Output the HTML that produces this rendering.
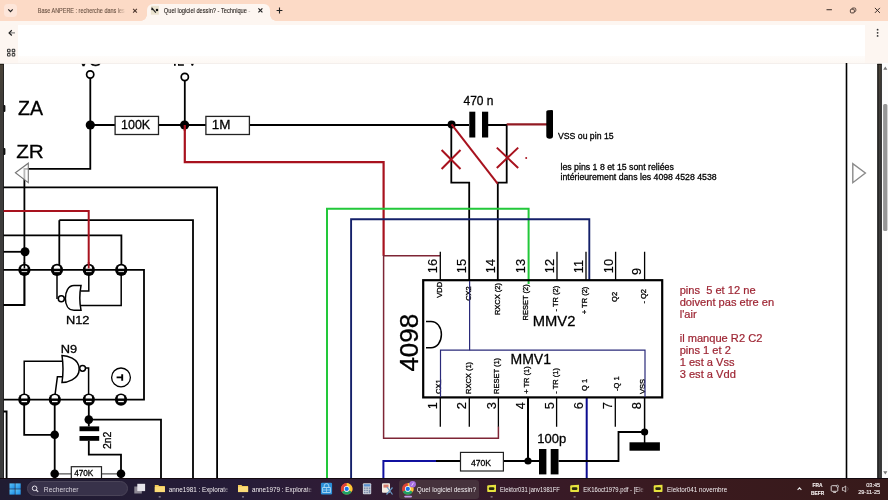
<!DOCTYPE html>
<html><head><meta charset="utf-8">
<style>
*{margin:0;padding:0;box-sizing:border-box}
html,body{width:888px;height:500px;overflow:hidden;background:#fff;font-family:"Liberation Sans",sans-serif}
.abs{position:absolute}
#tabbar{left:0;top:0;width:888px;height:21px;background:#fcdac6}
#toolbar{left:0;top:21px;width:888px;height:42px;background:#fdf6f1}
#tbwhite{left:18px;top:24.5px;width:847px;height:32px;background:#fff}
#content{left:0;top:63px;width:888px;height:415px;background:#fff;overflow:hidden}
#taskbar{left:0;top:478px;width:888px;height:22px;background:linear-gradient(90deg,#201c32 0%,#231c35 15%,#261c38 27%,#2e1c36 36%,#341b2e 50%,#381a26 63%,#3a1a1e 80%,#371a1a 100%);border-top:1px solid #140a10}
.tt{font-size:7.3px;color:#3a2a22;white-space:nowrap;position:absolute}
.wt{font-size:7.3px;color:#f2eef0;white-space:nowrap;position:absolute}
.fd{font-size:6.5px;width:60px;overflow:hidden;-webkit-mask-image:linear-gradient(90deg,#000 90%,transparent)}
</style></head>
<body><div style="position:absolute;left:0;top:0;width:888px;height:500px;will-change:transform">
<!-- TAB BAR -->
<div id="tabbar" class="abs"></div>
<div class="abs" style="left:3.5px;top:4px;width:13.5px;height:13px;border-radius:4px;background:#fde6da"></div>
<!-- active tab -->
<div class="abs" style="left:146.5px;top:3.6px;width:123px;height:18px;background:#fdf6f1;border-radius:6px 6px 0 0"></div>
<div class="abs" style="left:140.5px;top:15px;width:6px;height:6px;background:radial-gradient(circle at 0 0,transparent 5.5px,#fdf6f1 6px)"></div>
<div class="abs" style="left:269.5px;top:15px;width:6px;height:6px;background:radial-gradient(circle at 6px 0,transparent 5.5px,#fdf6f1 6px)"></div>
<svg class="abs" style="left:0;top:0" width="300" height="21" viewBox="0 0 300 21" font-family="Liberation Sans, sans-serif">
<defs><linearGradient id="f1" gradientUnits="userSpaceOnUse" x1="38" y1="0" x2="125" y2="0"><stop offset="0.9" stop-color="#6a5243"/><stop offset="1" stop-color="#6a5243" stop-opacity="0.05"/></linearGradient>
<linearGradient id="f2" gradientUnits="userSpaceOnUse" x1="164" y1="0" x2="251" y2="0"><stop offset="0.94" stop-color="#2a2420"/><stop offset="1" stop-color="#2a2420" stop-opacity="0.1"/></linearGradient></defs>
  <path d="M8.3 9.4 L10.5 11.6 L12.7 9.4" fill="none" stroke="#222" stroke-width="1.2"/>
  <text x="37.8" y="12.9" font-size="6.9" fill="url(#f1)" stroke="url(#f1)" stroke-width="0.12" textLength="87" lengthAdjust="spacingAndGlyphs">Base ANPERE : recherche dans les</text>
  <path d="M133.1 8.9 L136.9 12.7 M136.9 8.9 L133.1 12.7" stroke="#4e372e" stroke-width="1.05"/>
  <rect x="150.9" y="5.8" width="8" height="8.9" fill="#ebe3cf"/>
  <path d="M151.6 7.6 L155.8 12.6" stroke="#222" stroke-width="1.1"/>
  <circle cx="152.2" cy="9.2" r="1" fill="#222"/>
  <circle cx="157" cy="10" r="1.25" fill="#111"/>
  <text x="163.8" y="12.6" font-size="6.9" fill="url(#f2)" stroke="url(#f2)" stroke-width="0.12" textLength="86.6" lengthAdjust="spacingAndGlyphs">Quel logiciel dessin? - Technique -</text>
  <path d="M258.4 8.4 L262.4 12.4 M262.4 8.4 L258.4 12.4" stroke="#222" stroke-width="1.15"/>
  <path d="M279.5 7.6 L279.5 13.4 M276.6 10.5 L282.4 10.5" stroke="#222" stroke-width="1.1"/>
</svg>
<svg class="abs" style="left:820px;top:0" width="68" height="21" viewBox="0 0 68 21">
  <path d="M6.5 9.7 L11.9 9.7" stroke="#4a3a34" stroke-width="1.1"/>
  <rect x="30.4" y="9.2" width="3.9" height="3.7" fill="none" stroke="#4a3a34" stroke-width="1" rx="1"/>
  <path d="M31.6 9.2 Q31.8 8 33 8 L34.6 8 Q35.8 8 35.8 9.2 L35.8 10.6 Q35.8 11.7 34.3 11.8" fill="none" stroke="#4a3a34" stroke-width="0.9"/>
  <path d="M54.9 7.9 L59.9 12.9 M59.9 7.9 L54.9 12.9" stroke="#3a2e2a" stroke-width="1"/>
</svg>
<!-- TOOLBAR -->
<div id="toolbar" class="abs"></div>
<div id="tbwhite" class="abs"></div>
<div class="abs" style="left:18px;top:56px;width:847px;height:7px;background:linear-gradient(#fefcfa,#fdf8f4)"></div>
<svg class="abs" style="left:0;top:21px" width="888" height="42" viewBox="0 21 888 42">
  <path d="M15 32.9 L9.6 32.9" stroke="#666" stroke-width="1"/><path d="M11.8 30.3 L9.1 32.9 L11.8 35.5" fill="none" stroke="#222" stroke-width="1.2"/>
  <g fill="none" stroke="#3a3a3a" stroke-width="1.05">
    <rect x="7.5" y="49.3" width="2.6" height="2.6" rx="0.7"/>
    <rect x="12.2" y="49.3" width="2.6" height="2.6" rx="0.7"/>
    <rect x="7.5" y="53.4" width="2.6" height="2.6" rx="0.7"/>
    <rect x="12.2" y="53.4" width="2.6" height="2.6" rx="0.7"/>
  </g>
  <circle cx="877.6" cy="29.7" r="0.9" fill="#333"/>
  <circle cx="877.6" cy="32.8" r="0.9" fill="#333"/>
  <circle cx="877.6" cy="35.9" r="0.9" fill="#333"/>
</svg>
<!-- CONTENT -->
<div id="content" class="abs">
<svg class="abs" style="left:0;top:-63px" width="888" height="500" viewBox="0 0 888 500" font-family="Liberation Sans, sans-serif">
<g fill="none" stroke="#000" stroke-width="1.6" stroke-linecap="square">
<!-- top clipped texts -->
</g>
<text x="77.5" y="66.3" font-size="18" fill="#000" stroke="#000" stroke-width="0.28">VS</text>
<g fill="#000"><rect x="174" y="63" width="1.7" height="2.8"/>
<path d="M178 63.6 Q178.6 63.9 179.2 64.3 H183.9 V65.8 H178 Z"/>
<path d="M190.6 63 H194.1 L193 65.8 H191.7 Z"/></g>
<rect x="0" y="63" width="888" height="0.9" fill="#f3eeea"/>
<!-- left dark band -->
<defs><linearGradient id="lb" x1="0" y1="0" x2="0" y2="1"><stop offset="0" stop-color="#4a4338"/><stop offset="0.08" stop-color="#403d39"/><stop offset="0.25" stop-color="#3d3c3b"/><stop offset="1" stop-color="#3c3c3c"/></linearGradient></defs>
<rect x="0" y="64" width="3.2" height="414" fill="url(#lb)"/>
<rect x="3" y="64" width="0.9" height="414" fill="#111"/>
<rect x="0" y="63.8" width="3.9" height="0.9" fill="#1a1712"/>
<rect x="3.4" y="105" width="2" height="7" rx="1" fill="#111"/>
<rect x="3.4" y="148" width="2" height="7" rx="1" fill="#111"/>
<g fill="none" stroke="#000" stroke-width="1.8">
  <path d="M90.3 78 V168.8 H24.4 V305 H3.6"/>
  <path d="M90.3 125 H115 M158.5 125 H206 M249.4 125 H469"/>
  <path d="M184.8 80.5 V125"/>
  <path d="M488 125 H506.7 V182.7 H497.8 V280"/>
  <path d="M451.3 125 V182.7 H469.2 V280"/>
  <path d="M3.6 187.3 H217.1 V478"/>
  <path d="M59.3 220.2 H193 V478"/>
  <path d="M59.3 220.2 V266"/>
  <path d="M3.6 235.3 H121.4 V266"/>
  <path d="M3.6 251.8 H25"/>
  <path d="M3.6 269.8 H144 V399.6 H3.8"/>
</g>
<path d="M3.6 211.1 H88.7 V266" fill="none" stroke="#a8121e" stroke-width="2"/>
<!-- red from 12V -->
<path d="M184.8 125 V162.2 H383.6 V255.7" fill="none" stroke="#a8121e" stroke-width="2.2"/>
<path d="M440.3 255.7 H383.6 V438.2 H498.4 V426.5" fill="none" stroke="#7e2535" stroke-width="1.5"/>
<!-- green -->
<path d="M327 478 V208.8 H528.6 V284" fill="none" stroke="#22c83a" stroke-width="2"/>
<!-- blue -->
<path d="M351.1 478 V219.3 H589.3 V280" fill="none" stroke="#14206a" stroke-width="1.9"/>
<path d="M383.4 478 V461 H436" fill="none" stroke="#1010a0" stroke-width="2"/>
<path d="M586.7 397 V478" fill="none" stroke="#0c0c90" stroke-width="2"/>
<!-- terminals -->
<circle cx="90.2" cy="74.5" r="3.6" fill="#fff" stroke="#000" stroke-width="1.7"/>
<circle cx="184.8" cy="77" r="3.6" fill="#fff" stroke="#000" stroke-width="1.7"/>
<!-- junction dots -->
<g fill="#000">
  <circle cx="90.3" cy="125" r="4.6"/>
  <circle cx="184.6" cy="125" r="4.6"/>
  <circle cx="451.6" cy="124.5" r="4"/>
  <circle cx="25" cy="251.8" r="4.5"/>
</g>
<path d="M184.8 125 V131" stroke="#a8121e" stroke-width="2.2"/>
<!-- resistors -->
<rect x="115.1" y="116.4" width="43.4" height="18.1" fill="#fff" stroke="#222" stroke-width="1.3"/>
<text x="121" y="128.9" font-size="12.5" fill="#000" stroke="#000" stroke-width="0.28">100K</text>
<rect x="205.9" y="116.4" width="43.5" height="18.1" fill="#fff" stroke="#222" stroke-width="1.3"/>
<text x="211.8" y="128.9" font-size="13.5" fill="#000" stroke="#000" stroke-width="0.28">1M</text>
<!-- capacitor 470n -->
<text x="463.5" y="105" font-size="12" fill="#000" stroke="#000" stroke-width="0.28">470 n</text>
<rect x="469.3" y="111.7" width="6" height="25.8" fill="#000"/>
<rect x="482" y="111.7" width="6.2" height="25.8" fill="#000"/>
<path d="M506.7 124.4 H547" stroke="#921a22" stroke-width="2.1"/>
<path d="M546.3 111.6 Q546.4 110.4 548 110.3 L552 109.9 Q553 109.9 553 111.2 L553 136 Q553 138.8 549.7 138.8 Q546.3 138.8 546.3 136 Z" fill="#000"/>
<path d="M451.6 124.3 L497.6 183.7" stroke="#a8121e" stroke-width="2"/>
<path d="M441.6 150 L460.5 169 M460.5 150 L441.6 169" stroke="#a8121e" stroke-width="2"/>
<path d="M496.8 147.6 L518.2 168 M518.2 147.6 L496.8 168" stroke="#a8121e" stroke-width="2"/>
<circle cx="526.2" cy="158.1" r="1" fill="#a8121e"/>
<text x="558" y="139" font-size="8.7" fill="#000" stroke="#000" stroke-width="0.28">VSS ou pin 15</text>
<text x="560.5" y="170.1" font-size="8.75" fill="#000" stroke="#000" stroke-width="0.28">les pins 1 8 et 15 sont reliées</text>
<text x="560.5" y="179.8" font-size="8.72" fill="#000" stroke="#000" stroke-width="0.28">intérieurement dans les 4098 4528 4538</text>
<!-- text left -->
<text x="18" y="114.5" font-size="19.6" fill="#000" stroke="#000" stroke-width="0.28" textLength="25" lengthAdjust="spacingAndGlyphs">ZA</text>
<text x="16.2" y="158.3" font-size="19" fill="#000" stroke="#000" stroke-width="0.28" textLength="27.6" lengthAdjust="spacingAndGlyphs">ZR</text>
<!-- left arrow -->
<path d="M15.4 172.8 L28.3 163.2 L28.3 182.6 Z" fill="#fff" fill-opacity="0.72" stroke="#767676" stroke-width="1.1"/>
<!-- connector circles -->
<circle cx="24.4" cy="269.9" r="6.1" fill="#000"/>
<path d="M21.1 268.7 A3.3 3.3 0 0 1 27.7 268.7 Z" fill="#fff"/>
<rect x="21.6" y="271.2" width="5.6" height="0.9" fill="#fff"/>
<circle cx="57" cy="269.9" r="6.1" fill="#000"/>
<path d="M53.7 268.7 A3.3 3.3 0 0 1 60.3 268.7 Z" fill="#fff"/>
<rect x="54.2" y="271.2" width="5.6" height="0.9" fill="#fff"/>
<circle cx="88.8" cy="269.9" r="6.1" fill="#000"/>
<path d="M85.5 268.7 A3.3 3.3 0 0 1 92.1 268.7 Z" fill="#fff"/>
<rect x="86.0" y="271.2" width="5.6" height="0.9" fill="#fff"/>
<circle cx="121.2" cy="269.9" r="6.1" fill="#000"/>
<path d="M117.9 268.7 A3.3 3.3 0 0 1 124.5 268.7 Z" fill="#fff"/>
<rect x="118.4" y="271.2" width="5.6" height="0.9" fill="#fff"/>
<circle cx="24.3" cy="399.6" r="6.1" fill="#000"/>
<path d="M21.0 398.4 A3.3 3.3 0 0 1 27.6 398.4 Z" fill="#fff"/>
<rect x="21.5" y="400.9" width="5.6" height="1.3" fill="#fff"/>
<circle cx="54.8" cy="399.6" r="6.1" fill="#000"/>
<path d="M51.5 398.4 A3.3 3.3 0 0 1 58.1 398.4 Z" fill="#fff"/>
<rect x="52.0" y="400.9" width="5.6" height="1.3" fill="#fff"/>
<circle cx="88.8" cy="399.6" r="6.1" fill="#000"/>
<path d="M85.5 398.4 A3.3 3.3 0 0 1 92.1 398.4 Z" fill="#fff"/>
<rect x="86.0" y="400.9" width="5.6" height="1.3" fill="#fff"/>
<circle cx="121" cy="399.6" r="6.1" fill="#000"/>
<path d="M117.7 398.4 A3.3 3.3 0 0 1 124.3 398.4 Z" fill="#fff"/>
<rect x="118.2" y="400.9" width="5.6" height="1.3" fill="#fff"/>
<path d="M24.4 262 V268.4" stroke="#000" stroke-width="1.6"/><path d="M88.7 262 V268.4" stroke="#a8121e" stroke-width="1.8"/>
<!-- N12 gate (pointing left) -->
<g fill="none" stroke="#000" stroke-width="1.5">
  <path d="M24.5 274 V305 H3.6"/>
  <path d="M57 274 V299"/>
  <path d="M88.8 274 V291 H81"/>
  <path d="M121.2 274 V305.4 H81"/>
  <path d="M81 285.6 H74 C68 285.6 65.4 292 65.4 298.4 C65.4 304.8 68 310.2 74 310.2 H81 Q78.6 298 81 285.6 Z" fill="#fff"/>
  <circle cx="61.3" cy="298.8" r="3" fill="#fff"/>
</g>
<text x="66" y="323.6" font-size="11" fill="#000" stroke="#000" stroke-width="0.28" textLength="23.5" lengthAdjust="spacingAndGlyphs">N12</text>
<!-- N9 gate (pointing right) -->
<g fill="none" stroke="#000" stroke-width="1.5">
  <path d="M24.2 395 V361.3 H63"/>
  <path d="M55 395 L57.4 376.8 H63"/>
  <path d="M85.6 368 H88.6 V395"/>
  <path d="M62 355.5 C66 355.5 79.2 358 79.2 369 C79.2 380 66 382.5 62 382.5 Q64 369 62 355.5 Z" fill="#fff"/>
  <circle cx="82.6" cy="368.3" r="2.9" fill="#fff"/>
</g>
<text x="60.8" y="353.4" font-size="11" fill="#000" stroke="#000" stroke-width="0.28" textLength="16.4" lengthAdjust="spacingAndGlyphs">N9</text>
<!-- circled symbol -->
<circle cx="121" cy="377.4" r="9.4" fill="none" stroke="#000" stroke-width="1.3"/>
<path d="M116.6 377.4 H122.2 M122.2 374.2 V380.8" stroke="#000" stroke-width="1.9"/>
<!-- lower left -->
<g fill="none" stroke="#000" stroke-width="1.8">
  <path d="M24.2 404 V434.8 H54.7"/>
  <path d="M54.7 404 V478"/>
  <path d="M88.8 404 V426.4"/>
  <path d="M88.8 419.6 H161 V478"/>
  <path d="M88.8 440.8 V454.6 H121 V478"/>
  <path d="M3.6 411.5 H6.6 V478"/>
  <path d="M54.7 473.8 H71.3 M101.5 473.8 H121" stroke="#555" stroke-width="1.3"/>
</g>
<g fill="#000">
  <circle cx="54.7" cy="434.8" r="4.3"/>
  <circle cx="88.8" cy="419.6" r="4.3"/>
  <circle cx="54.7" cy="473.8" r="4.3"/>
  <circle cx="121" cy="473.8" r="4.3"/>
  <rect x="79.5" y="426.4" width="19.7" height="4.8"/>
  <rect x="79.5" y="436" width="19.7" height="4.8"/>
</g>
<text transform="translate(110.7 449) rotate(-90)" font-size="10.4" fill="#000" stroke="#000" stroke-width="0.28">2n2</text>
<rect x="71.3" y="466.7" width="30.2" height="14" fill="#fff" stroke="#222" stroke-width="1.2"/>
<text x="74.2" y="476.3" font-size="8.2" fill="#000" stroke="#000" stroke-width="0.28">470K</text>
<!-- CHIP -->
<rect x="423.2" y="280.2" width="239" height="117.2" fill="none" stroke="#000" stroke-width="2.2"/>
<g stroke="#000" stroke-width="1.3">
  <path d="M440.3 251.7 V280 M557 251.7 V280 M586 251.7 V280 M615.6 251.7 V280 M644.6 251.7 V280"/>
  <path d="M440.3 398 V426.8 M469.3 398 V426.8 M498.4 398 V426.8 M556.6 398 V426.8 M615.3 398 V426.8"/>
</g>
<path d="M528 398 V461" stroke="#000" stroke-width="2"/>
<path d="M644.6 398 V443" stroke="#000" stroke-width="1.5"/>
<path d="M426 321.4 H431 C437 321.4 441.4 327 441.4 334.6 C441.4 342 437 347.7 431 347.7 H426" fill="none" stroke="#000" stroke-width="1.5"/>
<text transform="translate(417.8 371.6) rotate(-90)" font-size="26" fill="#000" stroke="#000" stroke-width="0.3">4098</text>
<text x="532.8" y="326.3" font-size="14.2" textLength="42.6" lengthAdjust="spacingAndGlyphs" fill="#000" stroke="#000" stroke-width="0.28">MMV2</text>
<text x="510.5" y="363.7" font-size="14" fill="#000" stroke="#000" stroke-width="0.28">MMV1</text>
<!-- pin numbers top -->
<g font-size="12.8" fill="#000" stroke="#000" stroke-width="0.2">
  <text transform="translate(437 273.2) rotate(-90)">16</text>
  <text transform="translate(466 273.2) rotate(-90)">15</text>
  <text transform="translate(495.4 273.2) rotate(-90)">14</text>
  <text transform="translate(525 273.2) rotate(-90)">13</text>
  <text transform="translate(554 273.2) rotate(-90)">12</text>
  <text transform="translate(583.2 273.2) rotate(-90)">11</text>
  <text transform="translate(612.6 273.2) rotate(-90)">10</text>
  <text transform="translate(641.4 275) rotate(-90)">9</text>
</g>
<!-- pin numbers bottom -->
<g font-size="12.8" fill="#000" stroke="#000" stroke-width="0.2">
  <text transform="translate(437 409.2) rotate(-90)">1</text>
  <text transform="translate(466.4 409.2) rotate(-90)">2</text>
  <text transform="translate(495.6 409.2) rotate(-90)">3</text>
  <text transform="translate(524.8 409.2) rotate(-90)">4</text>
  <text transform="translate(553.8 409.2) rotate(-90)">5</text>
  <text transform="translate(583 409.2) rotate(-90)">6</text>
  <text transform="translate(612.2 409.2) rotate(-90)">7</text>
  <text transform="translate(641.4 409.2) rotate(-90)">8</text>
</g>
<!-- pin labels top (end-anchored) -->
<g font-size="7.5" fill="#000" stroke="#000" stroke-width="0.3" text-anchor="end">
  <text transform="translate(442 281.8) rotate(-90)">VDD</text>
  <text transform="translate(470.6 286.2) rotate(-90)">CX2</text>
  <text transform="translate(499.5 283) rotate(-90)">RXCX (2)</text>
  <text transform="translate(528.3 284.3) rotate(-90)">RESET (2)</text>
  <text transform="translate(558.1 285.8) rotate(-90)">- TR (2)</text>
  <text transform="translate(586.6 286.7) rotate(-90)">+ TR (2)</text>
  <text transform="translate(616.5 291.9) rotate(-90)">Q2</text>
  <text transform="translate(645.6 289) rotate(-90)">- Q2</text>
</g>
<!-- pin labels bottom (start-anchored) -->
<g font-size="7.5" fill="#000" stroke="#000" stroke-width="0.3">
  <text transform="translate(441 394) rotate(-90)">CX1</text>
  <text transform="translate(470.9 394) rotate(-90)">RXCX (1)</text>
  <text transform="translate(499.1 394) rotate(-90)">RESET (1)</text>
  <text transform="translate(528.7 393.8) rotate(-90)">+ TR (1)</text>
  <text transform="translate(558.1 393.8) rotate(-90)">- TR (1)</text>
  <text transform="translate(586.6 391) rotate(-90)">Q 1</text>
  <text transform="translate(618.8 391) rotate(-90)">-Q 1</text>
  <text transform="translate(645.3 394) rotate(-90)">VSS</text>
</g>
<g fill="none" stroke="#2a2a7a" stroke-width="1.2">
  <path d="M440.5 397 V350.2 H645 V397"/>
  <path d="M469.6 281 V350.2"/>
</g>
<!-- bottom circuit -->
<g fill="none" stroke="#000" stroke-width="1.8">
  <path d="M436 461 H460.5 M503.4 461 H539 M558.5 461 H618.5 V432 H644.6"/>
</g>
<rect x="460.5" y="452.4" width="42.9" height="18.6" fill="#fff" stroke="#222" stroke-width="1.2"/>
<text x="471" y="465.5" font-size="8.6" fill="#000" stroke="#000" stroke-width="0.28">470K</text>
<circle cx="528" cy="461" r="3.6" fill="#000"/>
<circle cx="644.6" cy="432" r="3.6" fill="#000"/>
<rect x="539" y="449" width="7.4" height="25.4" fill="#000"/>
<rect x="550.7" y="449" width="7.8" height="25.4" fill="#000"/>
<text x="537.3" y="442.7" font-size="13" fill="#000" stroke="#000" stroke-width="0.28">100p</text>
<rect x="629.5" y="442.3" width="30.4" height="8.4" fill="#000"/>
<!-- red notes -->
<g font-size="11.1" fill="#9e2634" stroke="#9e2634" stroke-width="0.22">
  <text x="679.7" y="294" xml:space="preserve">pins  5 et 12 ne</text>
  <text x="679.7" y="306">doivent pas etre en</text>
  <text x="679.7" y="318">l'air</text>
  <text x="679.7" y="341.5">il manque R2 C2</text>
  <text x="679.7" y="353.5">pins 1 et 2</text>
  <text x="679.7" y="365.5">1 est a Vss</text>
  <text x="679.7" y="378">3 est a Vdd</text>
</g>
<!-- right side -->
<path d="M846.5 63 V478" stroke="#000" stroke-width="1.6"/>
<path d="M865.4 173 L852.8 163.6 L852.8 182.7 Z" fill="#fff" stroke="#8a8a8a" stroke-width="1.4"/>
<rect x="877.3" y="64" width="4.6" height="414" fill="url(#lb)"/>
<rect x="877.4" y="64" width="1.1" height="414" fill="#161616"/>
<rect x="880.8" y="64" width="1.1" height="414" fill="#202020"/>
<rect x="877.3" y="63.8" width="4.6" height="1" fill="#1a1712"/>
<rect x="881.9" y="63" width="6.1" height="415" fill="#fcfcfc"/>
<path d="M885.3 66.4 L887.4 69.8 L883.2 69.8 Z" fill="#777"/>
<path d="M885.3 474.6 L887.4 471.2 L883.2 471.2 Z" fill="#777"/>
<rect x="883.1" y="104" width="4.3" height="127" rx="1.5" fill="#979797"/>

</svg>
</div>
<!-- TASKBAR -->
<div id="taskbar" class="abs"></div>
<div class="abs" style="left:26.7px;top:481px;width:101.3px;height:15.4px;border-radius:7.7px;background:#38324a;border:0.6px solid #4a4458"></div>
<div class="abs" style="left:399.2px;top:479.5px;width:80px;height:19.5px;border-radius:3px;background:#46323c"></div>
<svg class="abs" style="left:0;top:478px" width="888" height="22" viewBox="0 478 888 22">
  <defs>
    <linearGradient id="wg" x1="0" y1="0" x2="1" y2="1"><stop offset="0" stop-color="#5ec4f7"/><stop offset="1" stop-color="#1a8ce6"/></linearGradient>
  </defs>
  <g fill="url(#wg)">
    <rect x="9.5" y="483.4" width="5.3" height="5.3"/><rect x="15.4" y="483.4" width="5.3" height="5.3"/>
    <rect x="9.5" y="489.3" width="5.3" height="5.3"/><rect x="15.4" y="489.3" width="5.3" height="5.3"/>
  </g>
  <circle cx="34.6" cy="488.3" r="2.3" fill="none" stroke="#e6e2ea" stroke-width="1"/>
  <path d="M36.3 490 L38.2 491.9" stroke="#e6e2ea" stroke-width="1.1"/>
  <!-- task view -->
  <rect x="134.3" y="486.5" width="7.5" height="7" fill="#8c8894"/>
  <rect x="137.3" y="483.8" width="7.8" height="7.3" fill="#e6e4ea"/>
  <!-- folders -->
  <g>
    <path d="M154.8 485 h3.4 l1 1 h5.7 v6.1 h-10.1 z" fill="#f4cc5a"/>
    <rect x="154.8" y="487" width="10.1" height="5.1" fill="#fbdc78"/>
    <path d="M238 485 h3.4 l1 1 h5.7 v6.1 h-10.1 z" fill="#f4cc5a"/>
    <rect x="238" y="487" width="10.1" height="5.1" fill="#fbdc78"/>
  </g>
  <rect x="158.7" y="496.4" width="2" height="1" fill="#a8a4ac"/>
  <rect x="242" y="496.4" width="2" height="1" fill="#a8a4ac"/>
  <!-- store icon -->
  <rect x="320.9" y="482.8" width="11.2" height="11.6" rx="1.2" fill="#2a8ed8"/>
  <path d="M322.6 487.5 h7.8 v5 h-7.8 z M324.2 487.5 v-1.6 a2.3 2.3 0 0 1 4.6 0 v1.6" fill="none" stroke="#bfe4fa" stroke-width="0.8"/>
  <path d="M326.5 488 v4.4 M322.8 490 h7.6" stroke="#bfe4fa" stroke-width="0.6"/>
  <!-- chrome 1 -->
  <g transform="translate(346.7 488.9)">
    <circle r="5.8" fill="#dd4437"/>
    <path d="M0 0 L5.02 2.9 A5.8 5.8 0 0 1 -5.02 2.9 Z" fill="#1ea362"/>
    <path d="M0 0 L-5.02 2.9 A5.8 5.8 0 0 1 0 -5.8 Z" fill="#dd4437"/>
    <path d="M0 0 L0 -5.8 A5.8 5.8 0 0 1 5.02 2.9 Z" fill="#fcc934"/>
    <path d="M0 0 L-5.02 2.9 A5.8 5.8 0 0 1 -2.9 -5.02 Z" fill="#1ea362" opacity="0"/>
    <circle r="2.8" fill="#fff"/><circle r="2.1" fill="#1a73e8"/>
  </g>
  <!-- calculator -->
  <rect x="362.9" y="483.3" width="8.3" height="11" rx="1" fill="#cfd3dc"/>
  <rect x="363.8" y="484.2" width="6.5" height="2.3" fill="#5a8fd0"/>
  <g fill="#7a8aa8"><rect x="363.9" y="487.5" width="1.6" height="1.4"/><rect x="366.3" y="487.5" width="1.6" height="1.4"/><rect x="368.7" y="487.5" width="1.6" height="1.4"/>
  <rect x="363.9" y="489.7" width="1.6" height="1.4"/><rect x="366.3" y="489.7" width="1.6" height="1.4"/><rect x="368.7" y="489.7" width="1.6" height="3.6"/>
  <rect x="363.9" y="491.9" width="1.6" height="1.4"/><rect x="366.3" y="491.9" width="1.6" height="1.4"/></g>
  <!-- snipping -->
  <rect x="382" y="483.2" width="8" height="9.5" rx="1" fill="#f3ede4"/>
  <rect x="383.5" y="484.6" width="5" height="3" fill="#c94a3a" opacity="0.7"/>
  <path d="M387 487 L392.5 494.5 M392.5 487.5 L386.5 494.5" stroke="#6a9cc8" stroke-width="1.2"/>
  <!-- chrome active -->
  <g transform="translate(407.8 488.9)">
    <circle r="5.8" fill="#dd4437"/>
    <path d="M0 0 L5.02 2.9 A5.8 5.8 0 0 1 -5.02 2.9 Z" fill="#1ea362"/>
    <path d="M0 0 L0 -5.8 A5.8 5.8 0 0 1 5.02 2.9 Z" fill="#fcc934"/>
    <circle r="2.8" fill="#fff"/><circle r="2.1" fill="#1a73e8"/>
  </g>
  <circle cx="412.6" cy="484.2" r="3.3" fill="#a56de0"/>
  <path d="M411.6 485.8 L413.6 482.6" stroke="#fff" stroke-width="0.7"/>
  <rect x="404.2" y="495.8" width="7.8" height="1.6" rx="0.8" fill="#c39ae8"/>
  <!-- pdf icons -->
  <g>
    <path d="M487.2 486.4 q0 -1 1 -1.1 l7.8 -0.6 v6.6 q0 0.8 -0.8 0.8 h-7.2 q-0.8 0 -0.8 -0.8 z" fill="#e6e23e"/>
    <rect x="488.8" y="487.3" width="5.6" height="2.6" rx="1.2" fill="#2a2a10"/>
    <path d="M570.2 486.4 q0 -1 1 -1.1 l7.8 -0.6 v6.6 q0 0.8 -0.8 0.8 h-7.2 q-0.8 0 -0.8 -0.8 z" fill="#e6e23e"/>
    <rect x="571.8" y="487.3" width="5.6" height="2.6" rx="1.2" fill="#2a2a10"/>
    <path d="M653.7 486.4 q0 -1 1 -1.1 l7.8 -0.6 v6.6 q0 0.8 -0.8 0.8 h-7.2 q-0.8 0 -0.8 -0.8 z" fill="#e6e23e"/>
    <rect x="655.3" y="487.3" width="5.6" height="2.6" rx="1.2" fill="#2a2a10"/>
  </g>
  <rect x="490.6" y="496.4" width="2" height="1" fill="#a8a0a4"/>
  <rect x="573.6" y="496.4" width="2" height="1" fill="#a8a0a4"/>
  <rect x="657.2" y="496.4" width="2" height="1" fill="#a8a0a4"/>
  <!-- tray -->
  <path d="M797.6 489.8 L799.5 487.9 L801.4 489.8" fill="none" stroke="#eee" stroke-width="1.1"/>
  <rect x="831.2" y="485.7" width="6.6" height="5.6" rx="0.9" fill="none" stroke="#e8e4e4" stroke-width="0.9"/>
  <path d="M833.2 492.4 h2.8" stroke="#e8e4e4" stroke-width="0.9"/>
  <circle cx="837.4" cy="486.2" r="1.1" fill="#2c1a1e" stroke="#e8e4e4" stroke-width="0.7"/>
  <path d="M842.4 487.6 h1.3 l2 -1.6 v6 l-2 -1.6 h-1.3 z" fill="none" stroke="#e8e4e4" stroke-width="0.8"/>
  <path d="M847.5 487.2 a2.4 2.4 0 0 1 0 3.4" fill="none" stroke="#6a5a5e" stroke-width="0.7"/>
</svg>

<svg class="abs" style="left:0;top:478px" width="888" height="22" viewBox="0 478 888 22" font-family="Liberation Sans, sans-serif">
<defs>
<linearGradient id="tf0" gradientUnits="userSpaceOnUse" x1="169" y1="0" x2="228.8" y2="0"><stop offset="0.9" stop-color="#f2eef0"/><stop offset="1" stop-color="#f2eef0" stop-opacity="0.1"/></linearGradient>
<linearGradient id="tf1" gradientUnits="userSpaceOnUse" x1="252.3" y1="0" x2="312.2" y2="0"><stop offset="0.9" stop-color="#f2eef0"/><stop offset="1" stop-color="#f2eef0" stop-opacity="0.1"/></linearGradient>
<linearGradient id="tf4" gradientUnits="userSpaceOnUse" x1="583.6" y1="0" x2="644.0" y2="0"><stop offset="0.9" stop-color="#f2eef0"/><stop offset="1" stop-color="#f2eef0" stop-opacity="0.1"/></linearGradient>
</defs>
<text x="168.7" y="492.2" font-size="6.3" fill="url(#tf0)" textLength="59.9" lengthAdjust="spacingAndGlyphs">anne1981 : Explorate</text>
<text x="252.0" y="492.2" font-size="6.3" fill="url(#tf1)" textLength="60.0" lengthAdjust="spacingAndGlyphs">anne1979 : Explorate</text>
<text x="416.7" y="492.2" font-size="6.3" fill="#f2eef0" textLength="59.4" lengthAdjust="spacingAndGlyphs">Quel logiciel dessin?</text>
<text x="500.09999999999997" y="492.2" font-size="6.3" fill="#f2eef0" textLength="59.8" lengthAdjust="spacingAndGlyphs">Elektor031 janv1981FF</text>
<text x="583.3000000000001" y="492.2" font-size="6.3" fill="url(#tf4)" textLength="60.5" lengthAdjust="spacingAndGlyphs">EK16oct1979.pdf - [Ele</text>
<text x="667.1" y="492.2" font-size="6.3" fill="#f2eef0" textLength="60.1" lengthAdjust="spacingAndGlyphs">Elektor041 novembre</text>
<text x="43.8" y="491.8" font-size="7.6" fill="#d8d4dc" textLength="34.8" lengthAdjust="spacingAndGlyphs">Rechercher</text>
<g fill="#f0eaea" stroke="#f0eaea" stroke-width="0.15">
<text x="817.5" y="487.4" font-size="4.8" font-weight="bold" text-anchor="middle">FRA</text>
<text x="817.6" y="494.8" font-size="4.8" font-weight="bold" text-anchor="middle">BEFR</text>
<text x="880.2" y="487" font-size="5.6" text-anchor="end">03:45</text>
<text x="880.2" y="494.1" font-size="5.6" text-anchor="end">29-11-25</text>
</g>
</svg>
</div></body></html>
